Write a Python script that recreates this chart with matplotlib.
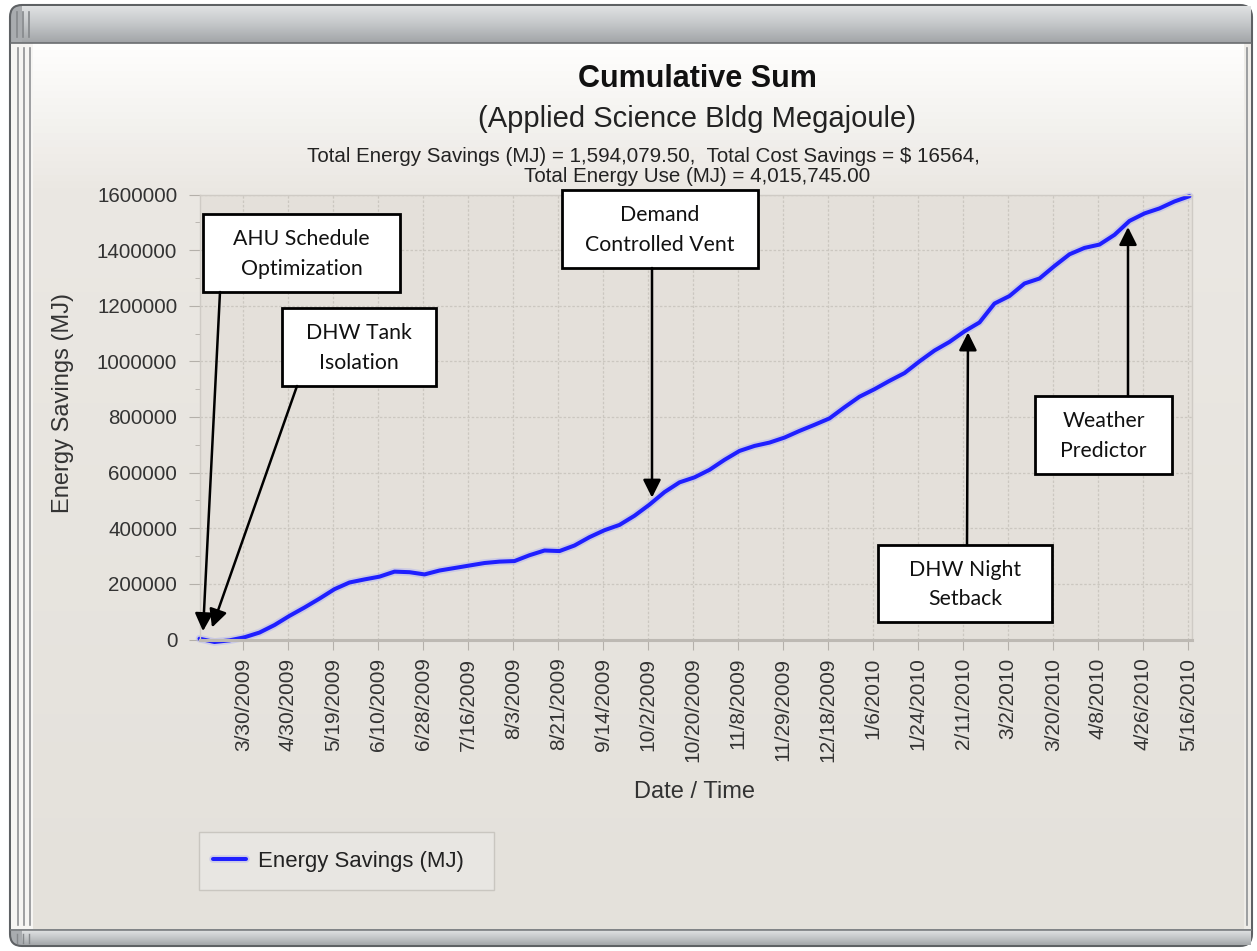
import numpy as np
import matplotlib
matplotlib.use("Agg")
from matplotlib import pyplot as plt
from matplotlib.patches import Rectangle, FancyBboxPatch
from matplotlib.colors import LinearSegmentedColormap
import matplotlib.patheffects as pe

### FIGURE SIZE (pixels) ###
W, H = 1257, 951

### DATA ###
tick_labels = ['3/30/2009', '4/30/2009', '5/19/2009', '6/10/2009', '6/28/2009',
               '7/16/2009', '8/3/2009', '8/21/2009', '9/14/2009', '10/2/2009',
               '10/20/2009', '11/8/2009', '11/29/2009', '12/18/2009', '1/6/2010',
               '1/24/2010', '2/11/2010', '3/2/2010', '3/20/2010', '4/8/2010',
               '4/26/2010', '5/16/2010']
first_tick = 17.5  # record index of the first labelled date
tick_step = 18     # records between labelled dates
n_records = 397

record = np.arange(0, 397, 6)   # every 6th reading
savings = [3000, -9000, -3000, 8000, 25000, 52000, 85000, 115000, 147000, 181000,
           205000, 216000, 226000, 244000, 242000, 234000, 248000, 257000, 266000, 275000,
           280000, 282000, 303000, 320000, 318000, 338000, 368000, 393000, 412000, 445000,
           485000, 530000, 565000, 583000, 610000, 646000, 678000, 696000, 708000, 726000,
           750000, 772000, 795000, 835000, 873000, 900000, 930000, 958000, 1000000, 1039000,
           1070000, 1108000, 1140000, 1208000, 1235000, 1280000, 1298000, 1343000, 1385000, 1408000,
           1420000, 1455000, 1505000, 1532000, 1550000, 1575000, 1594080]

y_ticks = np.arange(0, 1600001, 200000)

### ANNOTATIONS ###
notes = ['AHU Schedule\nOptimization', 'DHW Tank\nIsolation', 'Demand\nControlled Vent',
         'DHW Night\nSetback', 'Weather\nPredictor']
note_rec = [1.4, 5.0, 181, 307.4, 371.4]             # arrow tip (record index)
note_val = [30000, 43000, 510000, 1104000, 1483000]  # arrow tip (MJ)
# box (x0, y0, x1, y1) and arrow start, in screen pixels
note_box = [(203, 214, 400, 292), (282, 308, 436, 386), (562, 190, 758, 268),
            (878, 545, 1052, 622), (1035, 396, 1172, 474)]
note_from = [(220, 292), (297, 386), (652, 268), (967, 545), (1128, 396)]

plt.rcParams['font.family'] = ['Liberation Sans', 'DejaVu Sans']

def fx(x):
    return x / W

def fy(y):
    return 1 - y / H

fig = plt.figure(figsize=(W / 100, H / 100), dpi=100)
fig.patch.set_facecolor('white')

### WINDOW FRAME ###
bg = fig.add_axes([0, 0, 1, 1], zorder=0)
bg.axis('off')
grad = np.linspace(0, 1, 128).reshape(-1, 1)
bar_cmap = LinearSegmentedColormap.from_list('bar', ['#e0e2e3', '#c4c7c9', '#a3a6a9'])
panel_cmap = LinearSegmentedColormap.from_list(
    'panel', [(0, '#fefefd'), (0.16, '#ebe8e3'), (1, '#e4e1db')])

bg.add_patch(FancyBboxPatch((10, 5), 1242, 941, boxstyle='round,pad=0,rounding_size=12',
                            fc='#a9acaf', ec='#5e6164', lw=1.5, zorder=1))
bg.imshow(grad, cmap=bar_cmap, extent=(22, 1251, 42, 6), aspect='auto', zorder=2)
bg.imshow(grad, cmap=bar_cmap, extent=(22, 1251, 945, 930), aspect='auto', zorder=2)
bg.imshow(grad, cmap=panel_cmap, extent=(33, 1244, 929, 43), aspect='auto', zorder=2)
bg.add_patch(Rectangle((11, 43), 22, 886, fc='#f6f5f3', ec='none', zorder=2))
bg.add_patch(Rectangle((1244, 43), 7, 886, fc='#eeece8', ec='none', zorder=2))
bg.plot([11, 1251], [42.5, 42.5], color='#6a6d70', lw=1.2, zorder=3)
bg.plot([11, 1251], [929.5, 929.5], color='#7a7d80', lw=1.2, zorder=3)
for gx in (17, 23, 29):
    bg.plot([gx, gx], [12, 37], color='#85888b', lw=1.2, zorder=3)
    bg.plot([gx, gx], [934, 943], color='#85888b', lw=1.0, zorder=3)
for gx in (18, 24, 30):
    bg.plot([gx, gx], [48, 925], color='#8f9194', lw=1.2, zorder=3)
bg.plot([1247, 1247], [48, 925], color='#8f9194', lw=1.2, zorder=3)
# legend frame
bg.add_patch(Rectangle((199, 832), 295, 58, fc='#e8e6e2', ec='#c9c6c0', lw=1, zorder=4))
bg.set_xlim(0, W)
bg.set_ylim(H, 0)

### TITLES ###
fig.text(fx(697), fy(79), 'Cumulative Sum', ha='center', va='center',
         fontsize=22, weight='bold', color='#111111')
fig.text(fx(697), fy(119), '(Applied Science Bldg Megajoule)', ha='center', va='center',
         fontsize=21, color='#222222')
fig.text(fx(643), fy(156), 'Total Energy Savings (MJ) = 1,594,079.50,  Total Cost Savings = $ 16564,',
         ha='center', va='center', fontsize=14.8, color='#222222')
fig.text(fx(697), fy(177), 'Total Energy Use (MJ) = 4,015,745.00', ha='center', va='center',
         fontsize=14.8, color='#222222')

### PLOT ###
ax = fig.add_axes([fx(199.5), fy(639.5), 992.5 / W, 445 / H], zorder=1)
ax.set_facecolor('#e4e0da')
ax.plot(record, savings, color='#1f1fff', lw=2.9, clip_on=False, solid_capstyle='round',
        label='Energy Savings (MJ)',
        path_effects=[pe.Stroke(linewidth=5.5, foreground='#aeb0f0', alpha=0.45), pe.Normal()])
ax.set_xlim(0, n_records)
ax.set_ylim(0, 1600000)

ax.set_xticks(first_tick + tick_step * np.arange(len(tick_labels)))
ax.set_xticklabels(tick_labels, rotation=90, ha='center', va='top')
ax.set_yticks(y_ticks)
ax.set_yticklabels([str(v) for v in y_ticks])
ax.set_yticks(np.arange(100000, 1600000, 200000), minor=True)

ax.tick_params(axis='x', length=7, pad=6, labelsize=15, color='#b4b0aa', labelcolor='#333333')
ax.tick_params(axis='y', length=8, pad=8, labelsize=14.8, color='#b4b0aa', labelcolor='#333333')
ax.tick_params(axis='y', which='minor', length=3.6, color='#b4b0aa')

ax.grid(True, which='major', color='#cbc7c0', lw=0.9, ls=(0, (2, 1.5)))
for side in ('top', 'right', 'left'):
    ax.spines[side].set_color('#cfcbc5')
    ax.spines[side].set_linewidth(1)
ax.spines['bottom'].set_color('#bdb9b3')
ax.spines['bottom'].set_linewidth(2.2)

fig.text(fx(63), fy(403), 'Energy Savings (MJ)', rotation=90, ha='center', va='center',
         fontsize=17, color='#333333')
fig.text(fx(695), fy(792), 'Date / Time', ha='center', va='center',
         fontsize=17, color='#333333')

### LEGEND ###
leg = ax.legend(loc='center left', bbox_to_anchor=(fx(213), fy(861)),
                bbox_transform=fig.transFigure, fontsize=15.9, frameon=False,
                borderpad=0, handlelength=1.5, handletextpad=0.55, borderaxespad=0)
for t in leg.get_texts():
    t.set_color('#222222')

### ANNOTATION BOXES AND ARROWS ###
ov = fig.add_axes([0, 0, 1, 1], zorder=3)
ov.axis('off')
ov.patch.set_alpha(0)
ov.set_xlim(0, W)
ov.set_ylim(H, 0)

for txt, rx, rv, box, src in zip(notes, note_rec, note_val, note_box, note_from):
    x0, y0, x1, y1 = box
    ov.add_patch(Rectangle((x0, y0), x1 - x0, y1 - y0, fc='white', ec='black', lw=2))
    ov.text((x0 + x1) / 2, (y0 + y1) / 2 + 1, txt, ha='center', va='center',
            fontsize=15.3, family=['Lato', 'DejaVu Sans'], linespacing=1.6, color='#111111')
    ov.annotate('', xy=(rx, rv), xycoords=ax.transData, xytext=src, textcoords='data',
                annotation_clip=False,
                arrowprops=dict(arrowstyle='-|>', color='black', lw=1.8,
                                mutation_scale=27, shrinkA=0, shrinkB=0))

fig.savefig('out.png', dpi=100)
